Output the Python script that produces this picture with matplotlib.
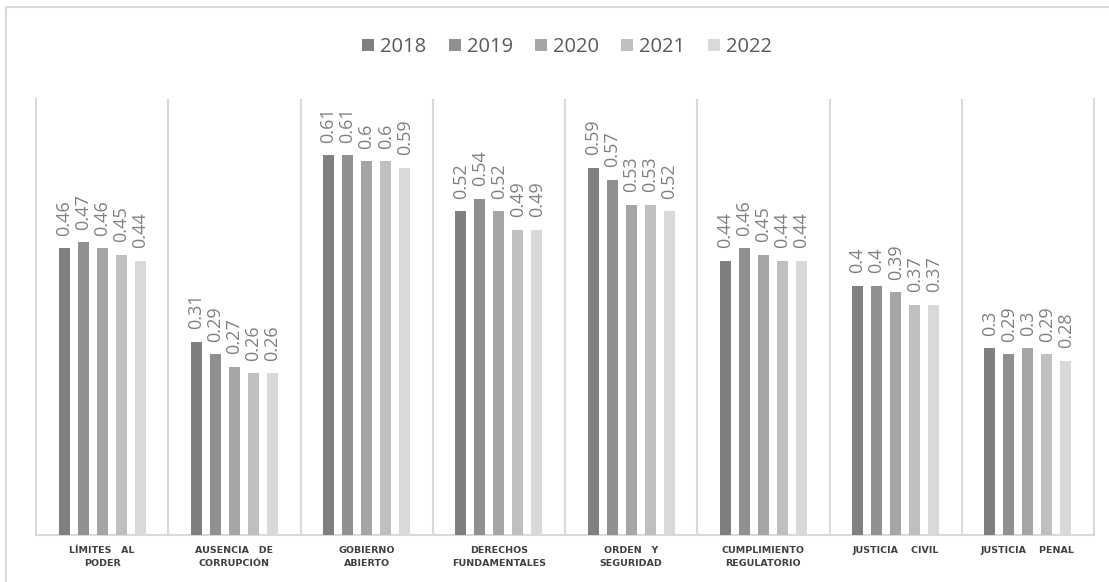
import matplotlib
matplotlib.use("Agg")
import matplotlib.pyplot as plt
import numpy as np

categories = ["LÍMITES   AL\nPODER", "AUSENCIA   DE\nCORRUPCIÓN", "GOBIERNO\nABIERTO",
              "DERECHOS\nFUNDAMENTALES", "ORDEN   Y\nSEGURIDAD", "CUMPLIMIENTO\nREGULATORIO",
              "JUSTICIA    CIVIL", "JUSTICIA    PENAL"]
years = ["2018", "2019", "2020", "2021", "2022"]
v2018 = [0.46, 0.31, 0.61, 0.52, 0.59, 0.44, 0.40, 0.30]
v2019 = [0.47, 0.29, 0.61, 0.54, 0.57, 0.46, 0.40, 0.29]
v2020 = [0.46, 0.27, 0.60, 0.52, 0.53, 0.45, 0.39, 0.30]
v2021 = [0.45, 0.26, 0.60, 0.49, 0.53, 0.44, 0.37, 0.29]
v2022 = [0.44, 0.26, 0.59, 0.49, 0.52, 0.44, 0.37, 0.28]
series = [v2018, v2019, v2020, v2021, v2022]
colors = ["#7f7f7f", "#909090", "#a5a5a5", "#bfbfbf", "#d9d9d9"]

plt.rcParams['font.family'] = ['Open Sans', 'DejaVu Sans']

fig = plt.figure(figsize=(11.09, 5.82), dpi=100)
ax = fig.add_axes([36/1109, 1-535/582, (1094-36)/1109, (535-99)/582])

x = np.arange(len(categories))
w = 0.083
step = 0.144
for i, (vals, c, yr) in enumerate(zip(series, colors, years)):
    xs = x + (i - 2) * step
    ax.bar(xs, vals, width=w, color=c, label=yr, zorder=3)
    for xi, v in zip(xs, vals):
        ax.annotate(f"{v:g}", (xi, v), xytext=(0, 9), textcoords="offset points",
                    rotation=90, ha="center", va="bottom", fontsize=13, color="#808080")

ax.set_xlim(-0.5, len(categories) - 0.5)
ax.set_ylim(0, 0.7)
ax.set_yticks([])
ax.set_xticks(x)
ax.set_xticklabels(categories, fontsize=6.8, fontweight="bold", color="#404040",
                   linespacing=1.5, family=["DejaVu Sans"], fontstretch="expanded")
ax.tick_params(axis="x", length=0, pad=8)
for s in ax.spines.values():
    s.set_color("#d9d9d9")
    s.set_linewidth(1.5)
ax.spines["top"].set_visible(False)
for b in np.arange(0.5, len(categories) - 0.5, 1):
    ax.axvline(b, color="#d9d9d9", lw=1.5, zorder=1)

fig.legend(loc="center", bbox_to_anchor=(567/1109, 1-47/582), ncol=5, frameon=False,
           fontsize=14.5, handlelength=0.6, handleheight=0.6, handletextpad=0.3,
           columnspacing=1.1, labelcolor="#595959")

# outer chart border (partially cropped)
fig.patches.append(plt.Rectangle((6/1109, -0.1), 1.2, 1 - 7/582 + 0.1,
                                 transform=fig.transFigure, fill=False,
                                 edgecolor="#d9d9d9", lw=1.5))

fig.savefig("out.png", dpi=100)
